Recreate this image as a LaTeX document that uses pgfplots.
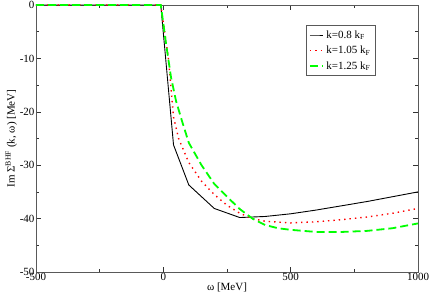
\documentclass[border=0pt]{standalone}
\usepackage{fontspec}
\setmainfont{Liberation Serif}
\usepackage{pgfplots}
\pgfplotsset{compat=1.18}
\begin{document}
\begin{tikzpicture}
\useasboundingbox (-36pt,-26pt) rectangle (394pt,272pt);
\begin{axis}[
  at={(0,0)}, anchor=south west,
  scale only axis, width=382pt, height=267pt,
  xmin=-500, xmax=1000, ymin=-50, ymax=0,
  clip=false,
  xtick={-500,0,500,1000}, ytick={-50,-40,-30,-20,-10,0},
  minor x tick num=1, minor y tick num=1,
  tick align=inside, tick pos=both,
  major tick length=5pt, minor tick length=3pt,
  axis line style={gray!70!black, line width=0.9pt},
  every tick/.style={black!80, line width=0.6pt},
  /pgf/number format/assume math mode=true,
  /pgf/number format/1000 sep={},
  tick label style={font=\fontsize{11}{12}\selectfont},
  xticklabel style={yshift=2pt},
  yticklabel style={xshift=2pt},
  xlabel={ω [MeV]}, ylabel={Im Σ\textsuperscript{BHF} (k, ω) [MeV]},
  label style={font=\fontsize{11}{12}\selectfont},
  xlabel style={yshift=5pt}, ylabel style={yshift=-4pt},
  legend style={at={(0.7055,0.925)}, anchor=north west,
    draw=gray!70!black, line width=0.8pt, font=\fontsize{11}{12}\selectfont,
    row sep=2.5pt, inner sep=3pt},
  legend image post style={xscale=0.8},
  legend cell align=left,
]
\addplot[black, line width=0.9pt] coordinates {
(-500,0) (-10,0) (40,-26.2) (100,-33.7) (200,-38.1) (300,-39.8) (400,-39.6)
(500,-39.1) (600,-38.4) (700,-37.6) (800,-36.8) (900,-35.9) (1000,-35.0)};
\addlegendentry{k=0.8 k\textsubscript{F}}
\addplot[red, line width=1.4pt, dash pattern=on 1.4pt off 4pt] coordinates {
(-500,0) (-10,0) (20,-10) (40,-21) (60,-25) (100,-29.5) (150,-33) (200,-35.5)
(250,-37.5) (300,-39) (350,-40) (400,-40.5) (500,-40.8) (600,-40.6) (700,-40.2)
(800,-39.7) (900,-39.0) (1000,-38.1)};
\addlegendentry{k=1.05 k\textsubscript{F}}
\addplot[green, line width=1.8pt, dash pattern=on 8pt off 4pt] coordinates {
(-500,0) (-10,0) (10,-7) (30,-13.5) (50,-18) (75,-22) (100,-25.8) (150,-30)
(200,-33.5) (250,-35.9) (300,-38.2) (350,-40) (400,-41.2) (450,-41.8) (500,-42.1)
(600,-42.5) (700,-42.5) (800,-42.3) (900,-41.8) (1000,-40.9)};
\addlegendentry{k=1.25 k\textsubscript{F}}
\end{axis}
\end{tikzpicture}
\end{document}
